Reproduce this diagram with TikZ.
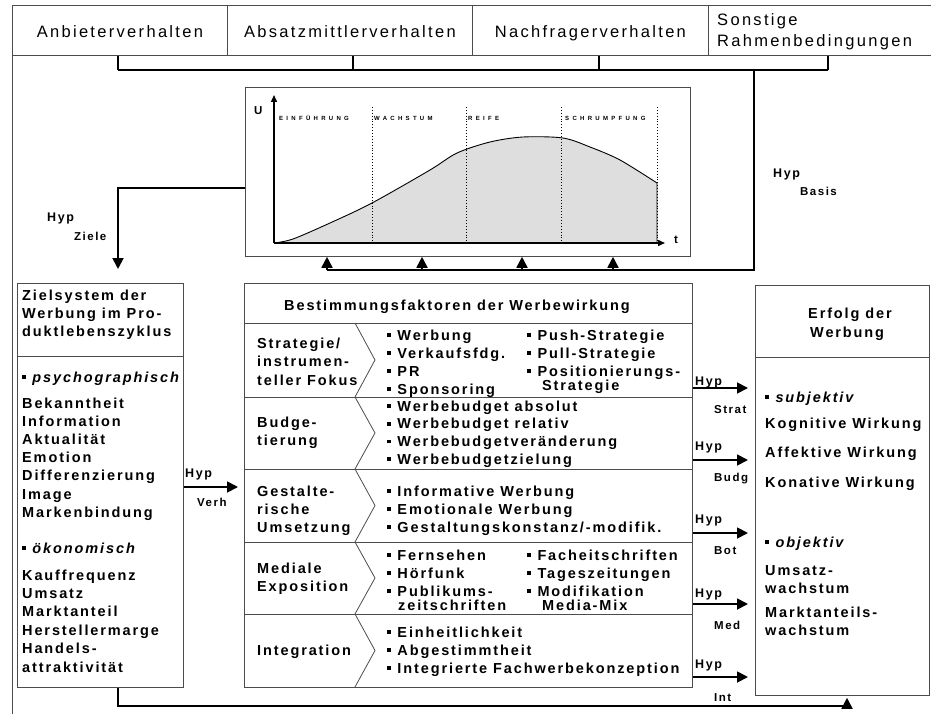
\documentclass[tikz,border=0pt]{standalone}
\usepackage{fontspec}
\setmainfont{Liberation Sans}
\newfontfamily\bodyfont[LetterSpace=13]{Liberation Sans}
\newfontfamily\headfont[LetterSpace=14]{Liberation Sans}
\newfontfamily\phasefont[LetterSpace=55]{Liberation Sans}
\usetikzlibrary{arrows.meta,positioning}
\newcommand{\bul}{\rule[0.22em]{0.26em}{0.26em}\hspace{0.45em}}
\tikzset{
  box/.style={draw=black!70, line width=0.8pt, inner sep=0pt, anchor=north west},
  thinline/.style={draw=black!70, line width=0.8pt},
  conn/.style={line width=1.8pt},
  txt/.style={anchor=base west, inner sep=0pt, font=\bodyfont\fontsize{14.5}{18}\selectfont\bfseries},
  head/.style={anchor=base, inner sep=0pt, font=\headfont\fontsize{16.5}{22}\selectfont},
  hyp/.style={anchor=base west, inner sep=0pt, font=\bodyfont\fontsize{12.5}{14}\selectfont\bfseries},
  hypsub/.style={anchor=base west, inner sep=0pt, font=\bodyfont\fontsize{11.5}{13}\selectfont\bfseries},
  phase/.style={anchor=base west, inner sep=0pt, font=\phasefont\fontsize{6}{7}\selectfont\bfseries}
}
\begin{document}
\begin{tikzpicture}[x=1pt, y=-1pt, >={Triangle[length=11pt,width=11pt]}]
  \useasboundingbox (0,0) rectangle (931,714);

  % header
  \node[box, minimum width=215pt, minimum height=50pt] (hA) at (12,5) {};
  \node[box, minimum width=245pt, minimum height=50pt] (hB) at (227,5) {};
  \node[box, minimum width=236pt, minimum height=50pt] (hC) at (472,5) {};
  \node[box, minimum width=235pt, minimum height=50pt] (hD) at (708,5) {};
  \node[head] (tA) at (hA.center |- 0,38) {Anbieterverhalten};
  \node[head] (tB) at (hB.center |- 0,38) {Absatzmittlerverhalten};
  \node[head] (tC) at (hC.center |- 0,38) {Nachfragerverhalten};
  \node[head, anchor=base west] (tD1) at (717,26) {Sonstige};
  \node[head, anchor=base west] (tD2) at (717,47) {Rahmenbedingungen};
  \draw[thinline] (hA.south west) -- (12,714);

  % bracket
  \foreach \n/\x in {hA/118, hB/353, hC/599, hD/828}
    \draw[conn] (\n.south -| \x,0) -- (\x,70);
  \draw[conn] (118,70) -- (828,70);
  \coordinate (basis) at (754,270);
  \draw[conn] (754,70) -- (basis) -- (327,270);
  \node[hyp] (hypB) at (773,178) {Hyp};
  \node[hypsub] (hypB2) at (800,196) {Basis};

  % life cycle chart
  \node[box, minimum width=445pt, minimum height=169pt] (chart) at (245,87) {};
  \coordinate (O) at (274,243);
  \fill[black!13] (O) -- plot[smooth] coordinates {(274,243) (293,239) (330,223) (372,203) (430,170) (457,153) (490,142) (523,137) (563,138) (590,147) (620,160) (657,183)} -- (657,243) -- cycle;
  \draw[line width=0.9pt] plot[smooth] coordinates {(274,243) (293,239) (330,223) (372,203) (430,170) (457,153) (490,142) (523,137) (563,138) (590,147) (620,160) (657,183)} -- (657,243);
  \foreach \x in {372,466,561,657}
    \draw[dotted, line width=0.9pt] (\x,107) -- (\x,243);
  \draw[line width=1.4pt, -{Triangle[length=7pt,width=6pt]}] (O) -- (274,95);
  \draw[line width=1.4pt, -{Triangle[length=7pt,width=6pt]}] (O) -- (665,243);
  \node[hypsub] (U) at (254,115) {U};
  \node[hypsub] (t) at (674,243) {t};
  \node[phase] (ph1) at (279,121) {EINFÜHRUNG};
  \node[phase] (ph2) at (374,121) {WACHSTUM};
  \node[phase] (ph3) at (468,121) {REIFE};
  \node[phase] (ph4) at (565,121) {SCHRUMPFUNG};
  \foreach \x in {327,422,522,613}
    \draw[conn,->] (\x,270) -- (chart.south -| \x,0);

  % Zielsystem
  \node[box, minimum width=166pt, minimum height=404pt] (ziel) at (17,283) {};
  \draw[thinline] (ziel.west |- 0,356) -- (ziel.east |- 0,356);
  \foreach \t [count=\i from 0] in {Zielsystem der, Werbung im Pro-, duktlebenszyklus}
    \node[txt] (zt\i) at (22,{300+18*\i}) {\t};
  \node[txt] (zpsy) at (22,382) {\bul\itshape psychographisch};
  \foreach \t [count=\i from 0] in {Bekanntheit, Information, Aktualität, Emotion, Differenzierung, Image, Markenbindung}
    \node[txt] (zp\i) at (22,{408+18.2*\i}) {\t};
  \node[txt] (zoek) at (22,553) {\bul\itshape ökonomisch};
  \foreach \t [count=\i from 0] in {Kauffrequenz, Umsatz, Marktanteil, Herstellermarge, Handels-, attraktivität}
    \node[txt] (zo\i) at (22,{580+18.4*\i}) {\t};

  % Hyp Ziele
  \draw[conn,->] (chart.west |- 0,188) -- (118,188) -- (118,269);
  \node[hyp] (hypZ) at (47,222) {Hyp};
  \node[hypsub] (hypZ2) at (74,240) {Ziele};

  % Bestimmungsfaktoren
  \node[box, minimum width=448pt, minimum height=404pt] (best) at (244,283) {};
  \node[txt, anchor=base] (bt) at (457,310) {Bestimmungsfaktoren der Werbewirkung};
  \foreach \y in {323,397,469,542,614}
    \draw[thinline] (best.west |- 0,\y) -- (best.east |- 0,\y);
  \foreach \a/\b in {323/397, 397/469, 469/542, 542/614, 614/687}
    \draw[thinline] (355,\a) -- (375,{(\a+\b)/2}) -- (355,\b);

  % row 1
  \foreach \t [count=\i from 0] in {Strategie/, instrumen-, teller Fokus}
    \node[txt] (r1l\i) at (257,{348+18.5*\i}) {\t};
  \foreach \t [count=\i from 0] in {Werbung, Verkaufsfdg., PR, Sponsoring}
    \node[txt] (r1a\i) at (387,{340+18*\i}) {\bul\t};
  \foreach \t [count=\i from 0] in {Push-Strategie, Pull-Strategie, Positionierungs-}
    \node[txt] (r1b\i) at (527,{340+18*\i}) {\bul\t};
  \node[txt] (r1b3) at (542,390) {Strategie};
  % row 2
  \node[txt] (r2l0) at (257,427) {Budge-};
  \node[txt] (r2l1) at (257,445) {tierung};
  \foreach \t [count=\i from 0] in {Werbebudget absolut, Werbebudget relativ, Werbebudgetveränderung, Werbebudgetzielung}
    \node[txt] (r2a\i) at (387,{411+17.8*\i}) {\bul\t};
  % row 3
  \foreach \t [count=\i from 0] in {Gestalte-, rische, Umsetzung}
    \node[txt] (r3l\i) at (257,{496+18*\i}) {\t};
  \foreach \t [count=\i from 0] in {Informative Werbung, Emotionale Werbung, Gestaltungskonstanz/-modifik.}
    \node[txt] (r3a\i) at (387,{496+18*\i}) {\bul\t};
  % row 4
  \node[txt] (r4l0) at (257,573) {Mediale};
  \node[txt] (r4l1) at (257,591) {Exposition};
  \foreach \t [count=\i from 0] in {Fernsehen, Hörfunk, Publikums-}
    \node[txt] (r4a\i) at (387,{560+18*\i}) {\bul\t};
  \node[txt] (r4a3) at (398,610) {zeitschriften};
  \foreach \t [count=\i from 0] in {Facheitschriften, Tageszeitungen, Modifikation}
    \node[txt] (r4b\i) at (527,{560+18*\i}) {\bul\t};
  \node[txt] (r4b3) at (542,610) {Media-Mix};
  % row 5
  \node[txt] (r5l0) at (257,655) {Integration};
  \foreach \t [count=\i from 0] in {Einheitlichkeit, Abgestimmtheit, Integrierte Fachwerbekonzeption}
    \node[txt] (r5a\i) at (387,{637+18*\i}) {\bul\t};

  % Hyp Verh
  \draw[conn,->,shorten >=6pt] (ziel.east |- 0,487) -- (best.west |- 0,487);
  \node[hyp] (hypV) at (185,477) {Hyp};
  \node[hypsub] (hypV2) at (197,506) {Verh};

  % Erfolg
  \node[box, minimum width=174pt, minimum height=410pt] (erf) at (755,285) {};
  \draw[thinline] (erf.west |- 0,357) -- (erf.east |- 0,357);
  \node[txt] (e0) at (808,318) {Erfolg der};
  \node[txt] (e1) at (810,337) {Werbung};
  \node[txt] (esub) at (765,402) {\bul\itshape subjektiv};
  \node[txt] (e2) at (765,428) {Kognitive Wirkung};
  \node[txt] (e3) at (765,457) {Affektive Wirkung};
  \node[txt] (e4) at (765,487) {Konative Wirkung};
  \node[txt] (eobj) at (765,547) {\bul\itshape objektiv};
  \node[txt] (e5) at (765,575) {Umsatz-};
  \node[txt] (e6) at (765,593) {wachstum};
  \node[txt] (e7) at (765,617) {Marktanteils-};
  \node[txt] (e8) at (765,635) {wachstum};

  % Hyp arrows to Erfolg
  \foreach \y in {388, 460, 533, 604, 677}
    \draw[conn,->,shorten >=7pt] (best.east |- 0,\y) -- (erf.west |- 0,\y);
  \foreach \y/\s in {385/Strat, 450/Budg, 523/Bot, 597/Med, 668/Int}
    \node[hyp] (hyp\s) at (695,\y) {Hyp};
  \foreach \y/\s in {413/Strat, 481/Budg, 554/Bot, 629/Med, 701/Int}
    \node[hypsub] (sub\s) at (714,\y) {\s};

  % back to Erfolg
  \draw[conn,->,shorten >=2pt] (ziel.south -| 118,0) -- (118,706) -- (847,706) -- (erf.south -| 847,0);
\end{tikzpicture}
\end{document}
